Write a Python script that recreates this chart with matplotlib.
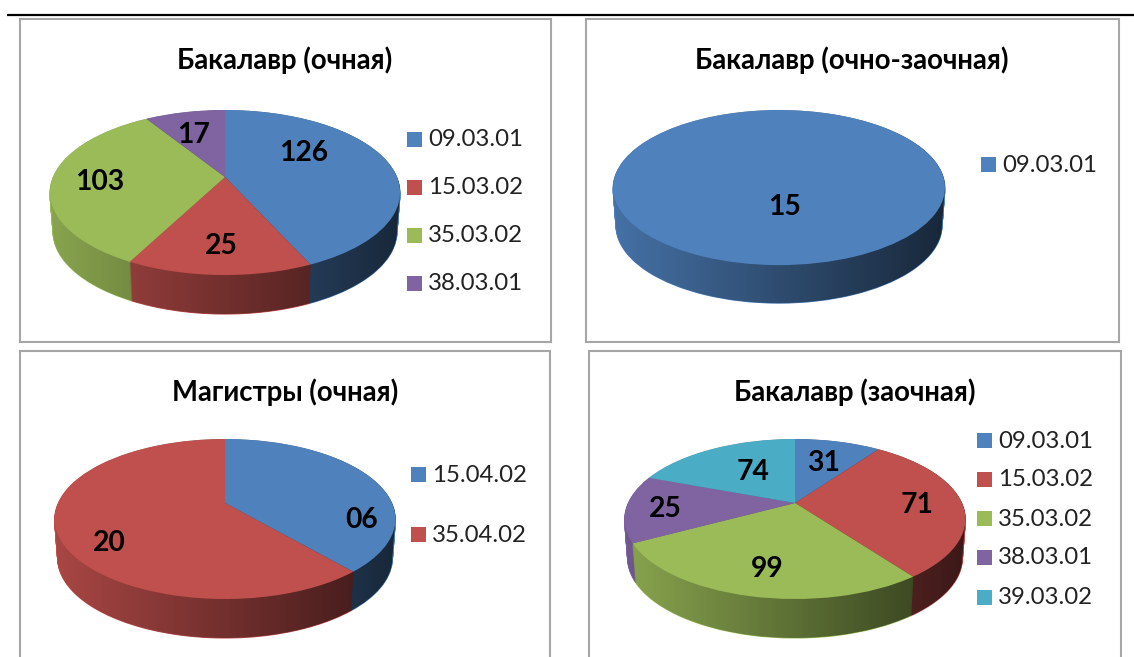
import numpy as np
import matplotlib
matplotlib.use("Agg")
import matplotlib.pyplot as plt
from matplotlib.patches import Rectangle
from matplotlib.path import Path
from matplotlib.transforms import Transform

plt.rcParams['font.family'] = ['Lato', 'Open Sans', 'DejaVu Sans']

BLUE, RED, GREEN, PURPLE, TEAL = '#4F81BD', '#C0504D', '#9BBB59', '#8064A2', '#4BACC6'

# Printed data labels and legend entries
titles = ['Бакалавр (очная)', 'Бакалавр (очно-заочная)', 'Магистры (очная)', 'Бакалавр (заочная)']
legend_1 = ['09.03.01', '15.03.02', '35.03.02', '38.03.01']
legend_2 = ['09.03.01']
legend_3 = ['15.04.02', '35.04.02']
legend_4 = ['09.03.01', '15.03.02', '35.03.02', '38.03.01', '39.03.02']
printed_1 = ['126', '25', '103', '17']
printed_2 = ['15']
printed_3 = ['06', '20']
printed_4 = ['31', '71', '99', '25', '74']

# Slice sizes as they appear in the picture, in degrees of the pie.
# The reference's slices are not proportional to its printed labels.
slices_1 = [155.7, 51.8, 120.5, 32.0]
slices_2 = [360.0]
slices_3 = [139.4, 220.6]
slices_4 = [35.6, 108.0, 98.0, 49.0, 69.4]

colors_1 = [BLUE, RED, GREEN, PURPLE]
colors_2 = [BLUE]
colors_3 = [BLUE, RED]
colors_4 = [BLUE, RED, GREEN, PURPLE, TEAL]

SHRINK = 0.018  # the base of the pie is slightly narrower than its top


class Perspective(Transform):
    """Tilted-disc projection from the pie's unit circle to figure pixels."""
    input_dims = output_dims = 2

    def __init__(self, cx, cy, a, b, k, drop=0.0):
        super().__init__()
        self.p = (cx, cy, a, b, k, drop)

    def transform_non_affine(self, xy):
        cx, cy, a, b, k, drop = self.p
        xy = np.asarray(xy, dtype=float)
        w = 1 + k * xy[:, 1]
        return np.column_stack([cx + a * xy[:, 0] / w, cy - b * xy[:, 1] / w + drop])


def outline(cx, cy, a, b, k, d):
    t = np.linspace(0, 2 * np.pi, 721)[:-1]
    circle = np.column_stack([np.cos(t), np.sin(t)])
    pts = Perspective(cx, cy, a, b, k).transform_non_affine(circle)
    base = Perspective(cx, cy, a * (1 - SHRINK), b, k, d).transform_non_affine(circle)
    il, ir = np.argmin(pts[:, 0]), np.argmax(pts[:, 0])
    pts = np.roll(pts, -ir, axis=0)
    base = np.roll(base, -ir, axis=0)
    il = (il - ir) % len(pts)
    upper = pts[:il + 1]
    lower = np.vstack([base[il:], base[:1]])
    return Path(np.vstack([upper, lower, upper[:1]]))


def pie3d(ax, sizes, colors, cx, cy, a, b, k, d):
    # Extruded side: the same pie repeated downward
    for step in np.arange(d, 0, -1.0):
        wedges, _ = ax.pie(sizes, colors=colors, startangle=90, counterclock=False)
        for w in wedges:
            w.set_transform(Perspective(cx, cy, a * (1 - SHRINK * step / d), b, k, step) + ax.transData)
            w.set_linewidth(0.8)
            w.set_edgecolor(w.get_facecolor())
            w.set_zorder(2)
    # Left-to-right darkening of the side
    shade = np.zeros((1, 256, 4))
    shade[0, :, 3] = np.linspace(0.12, 0.70, 256)
    im = ax.imshow(shade, extent=(cx - a * 1.03, cx + a * 1.03, cy + 200, cy - 200),
                   aspect='auto', zorder=3, interpolation='bilinear')
    im.set_clip_path(outline(cx, cy, a, b, k, d), ax.transData)
    # Top face
    wedges, _ = ax.pie(sizes, colors=colors, startangle=90, counterclock=False)
    for w in wedges:
        w.set_transform(Perspective(cx, cy, a, b, k) + ax.transData)
        w.set_zorder(4)
        w.set_linewidth(0)


fig = plt.figure(figsize=(11.34, 6.57), dpi=100, facecolor='white')
ax = fig.add_axes([0, 0, 1, 1])

charts = [
    dict(title=titles[0], tpos=(285, 59), frame=(20, 19, 531, 323), sizes=slices_1, colors=colors_1,
         geo=(225, 177, 172, 79.6, 0.188, 39), legend=legend_1, lx=407, ly=[139, 187, 235, 283],
         printed=printed_1, ppos=[(304, 152), (221, 245), (100, 181), (194, 134)]),
    dict(title=titles[1], tpos=(852, 59), frame=(586, 19, 533, 323), sizes=slices_2, colors=colors_2,
         geo=(779, 173, 163, 74.8, 0.188, 38), legend=legend_2, lx=981, ly=[164],
         printed=printed_2, ppos=[(785, 206)]),
    dict(title=titles[2], tpos=(285, 391), frame=(20, 351, 530, 330), sizes=slices_3, colors=colors_3,
         geo=(225, 503, 167, 76.8, 0.2, 39), legend=legend_3, lx=411, ly=[474, 534],
         printed=printed_3, ppos=[(362, 519), (109, 542)]),
    dict(title=titles[3], tpos=(855, 391), frame=(589, 351, 532, 330), sizes=slices_4, colors=colors_4,
         geo=(795, 503, 167, 76.8, 0.2, 39), legend=legend_4, lx=977, ly=[440, 479, 518, 557, 597],
         printed=printed_4, ppos=[(823, 462), (917, 504), (767, 568), (665, 508), (753, 471)]),
]

for c in charts:
    x, y, w, h = c['frame']
    ax.add_patch(Rectangle((x, y), w, h, fc='white', ec='#A6A6A6', lw=1.5, zorder=1))
    pie3d(ax, c['sizes'], c['colors'], *c['geo'])
    ax.text(c['tpos'][0], c['tpos'][1] + 1, c['title'], ha='center', va='center', fontsize=19.8,
            fontweight='bold', color='black', zorder=6)
    for (px, py), s in zip(c['ppos'], c['printed']):
        ax.text(px, py + 1, s, ha='center', va='center', fontsize=20.3, fontweight='bold',
                color='black', zorder=6)
    for ly, name, col in zip(c['ly'], c['legend'], c['colors']):
        ax.add_patch(Rectangle((c['lx'], ly - 7.5), 15, 15, fc=col, ec='none', zorder=6))
        ax.text(c['lx'] + 21, ly + 1, name, ha='left', va='center', fontsize=17.3, color='#222222', zorder=6)

ax.plot([7, 1134], [15, 15], color='black', lw=1.6, zorder=7, solid_capstyle='butt')

ax.set_aspect('auto')
ax.set_xlim(0, 1134)
ax.set_ylim(657, 0)
ax.axis('off')
fig.savefig('out.png', dpi=100)
